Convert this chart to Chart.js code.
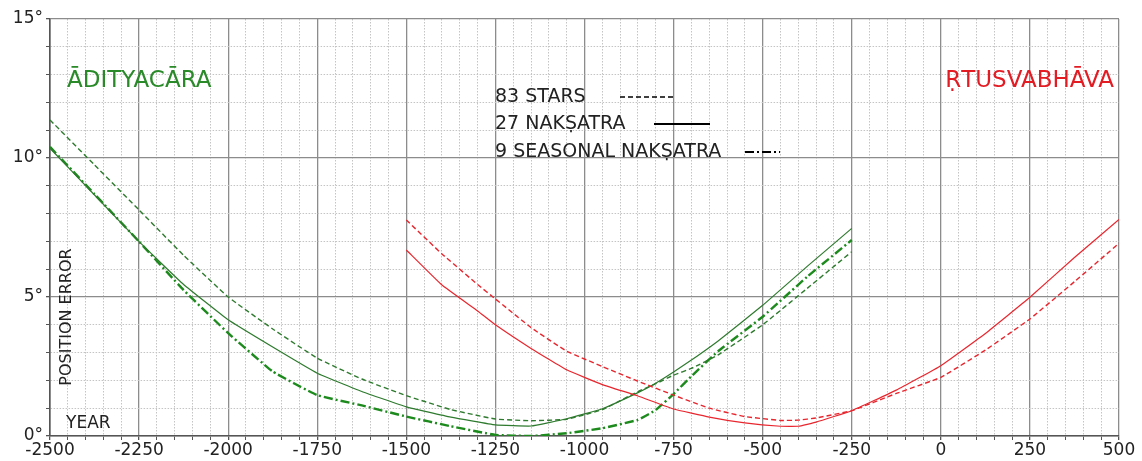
<!DOCTYPE html>
<html>
<head>
<meta charset="utf-8">
<script src="https://cdn.jsdelivr.net/npm/chart.js"></script>
<style>
  html, body { margin: 0; padding: 0; background: #fff; }
  #wrap { width: 1142px; height: 461px; }
</style>
</head>
<body>
<div id="wrap"><canvas id="errChart" width="1142" height="461"></canvas></div>
<script>
// years and position errors (degrees)
var greenYears = [-2500, -2375, -2250, -2125, -2000, -1875, -1750, -1625, -1500, -1375, -1250, -1150, -1050, -950, -850, -800, -750, -700, -625, -500, -375, -250];
var aditya83 = [11.37, 9.75, 8.13, 6.5, 5.0, 3.85, 2.8, 2.05, 1.45, 0.95, 0.61, 0.55, 0.6, 0.95, 1.6, 1.88, 2.19, 2.43, 2.92, 4.0, 5.31, 6.63];
var aditya27 = [10.35, 8.67, 6.99, 5.45, 4.18, 3.2, 2.26, 1.6, 1.05, 0.68, 0.4, 0.36, 0.62, 0.98, 1.56, 1.9, 2.3, 2.73, 3.42, 4.7, 6.1, 7.47];
var aditya9 = [10.4, 8.7, 6.99, 5.25, 3.7, 2.32, 1.47, 1.1, 0.7, 0.35, 0.04, 0.0, 0.1, 0.28, 0.58, 0.94, 1.51, 2.15, 3.05, 4.29, 5.73, 7.05];

var redYears = [-1500, -1400, -1300, -1250, -1150, -1050, -950, -850, -750, -650, -550, -450, -400, -350, -250, -125, 0, 125, 250, 375, 500];
var rtu83 = [7.77, 6.55, 5.45, 4.93, 3.9, 3.05, 2.5, 1.97, 1.47, 1.0, 0.7, 0.56, 0.57, 0.65, 0.91, 1.53, 2.11, 3.09, 4.21, 5.55, 6.93];
var rtu27 = [6.69, 5.43, 4.5, 4.0, 3.15, 2.38, 1.85, 1.44, 0.97, 0.68, 0.47, 0.35, 0.35, 0.5, 0.91, 1.65, 2.53, 3.69, 4.99, 6.42, 7.79];

var legendLabels = ['83 STARS', '27 NAKṢATRA', '9 SEASONAL NAKṢATRA'];

var GREEN = '#2e7a2e';
var GREEN_BRIGHT = '#1c8a1c';
var RED = '#e8262e';
var DASHED = [5, 3];
var DASHDOT = [9, 3, 2, 3];

function pts(xs, ys) {
    return xs.map(function (x, i) { return { x: x, y: ys[i] }; });
}

Chart.defaults.font.family = '"DejaVu Sans", sans-serif';
Chart.defaults.color = '#222';

// titles, axis captions and the little line legend
var labelsPlugin = {
    id: 'labels',
    afterDraw: function (chart) {
        var ctx = chart.ctx;
        var a = chart.chartArea;
        ctx.save();
        ctx.textBaseline = 'middle';

        ctx.font = '23px "DejaVu Sans"';
        ctx.fillStyle = '#2a8a2a';
        ctx.textAlign = 'left';
        ctx.fillText('ĀDITYACĀRA', a.left + 17, 81);
        ctx.fillStyle = '#e31b23';
        ctx.textAlign = 'right';
        ctx.fillText('ṚTUSVABHĀVA', a.right - 5, 81);

        ctx.fillStyle = '#222';
        ctx.textAlign = 'left';
        ctx.font = '17px "DejaVu Sans"';
        ctx.fillText('YEAR', a.left + 16, 424);
        ctx.save();
        ctx.translate(a.left + 17, 317);
        ctx.rotate(-Math.PI / 2);
        ctx.textAlign = 'center';
        ctx.font = '16px "DejaVu Sans"';
        ctx.fillText('POSITION ERROR', 0, 0);
        ctx.restore();

        ctx.font = '19px "DejaVu Sans"';
        var rows = [
            { y: 97, x0: 620, x1: 673, dash: DASHED, w: 1.6 },
            { y: 124, x0: 654, x1: 710, dash: [], w: 2.2 },
            { y: 152, x0: 745, x1: 780, dash: DASHDOT, w: 2.2 }
        ];
        rows.forEach(function (r, i) {
            ctx.fillStyle = '#222';
            ctx.fillText(legendLabels[i], 495, r.y);
            ctx.strokeStyle = '#000';
            ctx.lineWidth = r.w;
            ctx.setLineDash(r.dash);
            ctx.beginPath();
            ctx.moveTo(r.x0, r.y);
            ctx.lineTo(r.x1, r.y);
            ctx.stroke();
        });
        ctx.restore();
    }
};

function isMajor(c, every) {
    return c.tick && c.tick.value % every === 0;
}

new Chart(document.getElementById('errChart').getContext('2d'), {
    type: 'line',
    data: {
        datasets: [
            { label: 'rtu83', data: pts(redYears, rtu83), borderColor: RED, borderWidth: 1.4, borderDash: DASHED },
            { label: 'rtu27', data: pts(redYears, rtu27), borderColor: RED, borderWidth: 1.2 },
            { label: 'aditya83', data: pts(greenYears, aditya83), borderColor: GREEN, borderWidth: 1.4, borderDash: DASHED },
            { label: 'aditya27', data: pts(greenYears, aditya27), borderColor: GREEN, borderWidth: 1.2 },
            { label: 'aditya9', data: pts(greenYears, aditya9), borderColor: GREEN_BRIGHT, borderWidth: 2.4, borderDash: DASHDOT }
        ]
    },
    options: {
        responsive: false,
        animation: false,
        layout: { padding: { top: 19, right: 23, left: 0, bottom: 0 } },
        elements: { point: { radius: 0 }, line: { tension: 0.1, fill: false } },
        plugins: { legend: { display: false }, tooltip: { enabled: false } },
        scales: {
            x: {
                type: 'linear',
                min: -2500,
                max: 500,
                afterFit: function (s) { s.height = 25; },
                ticks: {
                    stepSize: 50,
                    autoSkip: false,
                    maxRotation: 0,
                    padding: 0,
                    font: { size: 17 },
                    color: '#222',
                    callback: function (v) { return v % 250 === 0 ? String(v) : ''; }
                },
                grid: {
                    color: function (c) { return isMajor(c, 250) ? '#8c8c8c' : '#c4c4c4'; },
                    lineWidth: function (c) { return isMajor(c, 250) ? 1.3 : 1; },
                    tickColor: '#555',
                    tickLength: 4
                },
                border: {
                    color: '#555',
                    width: 1.6,
                    dash: function (c) { return (c.tick && c.tick.value % 250 !== 0) ? [1.5, 1.5] : []; }
                }
            },
            y: {
                min: 0,
                max: 15,
                afterFit: function (s) { s.width = 50; },
                ticks: {
                    stepSize: 1,
                    autoSkip: false,
                    padding: 3,
                    font: { size: 17 },
                    color: '#222',
                    callback: function (v) { return v % 5 === 0 ? v + '°' : ''; }
                },
                grid: {
                    color: function (c) { return isMajor(c, 5) ? '#8c8c8c' : '#c4c4c4'; },
                    lineWidth: function (c) { return isMajor(c, 5) ? 1.3 : 1; },
                    tickColor: '#555',
                    tickLength: 4
                },
                border: {
                    color: '#555',
                    width: 1.6,
                    dash: function (c) { return (c.tick && c.tick.value % 5 !== 0) ? [1.5, 1.5] : []; }
                }
            }
        }
    },
    plugins: [labelsPlugin]
});
</script>
</body>
</html>
